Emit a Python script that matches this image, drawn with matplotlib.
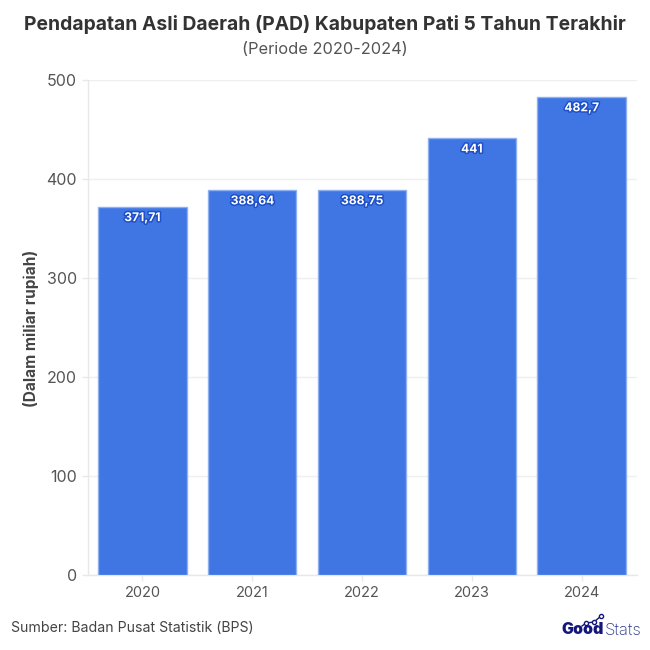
import matplotlib
matplotlib.use("Agg")
import matplotlib.pyplot as plt
import matplotlib.patheffects as pe

years = ["2020", "2021", "2022", "2023", "2024"]
values = [371.71, 388.64, 388.75, 441, 482.7]
value_labels = ["371,71", "388,64", "388,75", "441", "482,7"]
yticks = [0, 100, 200, 300, 400, 500]

W = H = 650
BLUE = "#3F76E4"
plt.rcParams["font.family"] = ["Inter", "DejaVu Sans"]

fig = plt.figure(figsize=(6.5, 6.5), dpi=100, facecolor="white")
ax = fig.add_axes([87.5 / W, 1 - 575 / H, 549 / W, 495 / H])

x = range(len(years))
ax.bar(x, values, width=0.805, color=BLUE, edgecolor="#8FB0F0", linewidth=1, zorder=3)
ax.set_xlim(-0.5, 4.5)
ax.set_ylim(0, 500)
ax.set_xticks(list(x), years)
ax.set_yticks(yticks)
ax.tick_params(axis="x", length=4, width=1, color="#E8E8E8", labelsize=10.5, labelcolor="#555555", pad=4)
ax.tick_params(axis="y", length=4.5, width=1, color="#E8E8E8", labelsize=11.5, labelcolor="#555555", pad=3)
ax.grid(axis="y", color="#EFEFEF", linewidth=1, zorder=0)
ax.set_axisbelow(True)
for s in ["top", "right"]:
    ax.spines[s].set_visible(False)
for s in ["left", "bottom"]:
    ax.spines[s].set_color("#E8E8E8")
    ax.spines[s].set_linewidth(1)

for i, (v, lab) in enumerate(zip(values, value_labels)):
    ax.annotate(lab, (i, v), xytext=(0, -8), textcoords="offset points", ha="center", va="center",
                fontsize=8.7, fontweight="bold", color="white", zorder=5,
                path_effects=[pe.withStroke(linewidth=2.2, foreground="#1F50C8")])

fig.text(325 / W, 1 - 25 / H, "Pendapatan Asli Daerah (PAD) Kabupaten Pati 5 Tahun Terakhir",
         ha="center", va="center", fontsize=13.9, fontweight="bold", color="#333333")
fig.text(325 / W, 1 - 49 / H, "(Periode 2020-2024)", ha="center", va="center", fontsize=11.8, color="#555555")
fig.text(31 / W, 1 - 328 / H, "(Dalam miliar rupiah)", rotation=90, ha="center", va="center",
         fontsize=11.1, fontweight="bold", color="#444444")
fig.text(11 / W, 1 - 628 / H, "Sumber: Badan Pusat Statistik (BPS)", ha="left", va="center",
         fontsize=10.15, color="#444444")

# GoodStats logo
NAVY = "#14177A"
fig.text(561 / W, 1 - 630 / H, "Good", ha="left", va="center", fontsize=11.5, fontweight="black", color=NAVY)
fig.text(604.5 / W, 1 - 630 / H, "Stats", ha="left", va="center", fontsize=12, fontweight="light", color="#2B3A8C")
logo = fig.add_axes([0, 0, 1, 1], facecolor="none")
logo.set_xlim(0, W)
logo.set_ylim(H, 0)
logo.axis("off")
logo.plot([582, 586, 594, 601], [626, 623, 622, 616], color=NAVY, lw=1, marker="o", ms=3,
          mfc="white", mec=NAVY, mew=1, markevery=[1, 2, 3])

fig.savefig("out.png", dpi=100, facecolor="white")
